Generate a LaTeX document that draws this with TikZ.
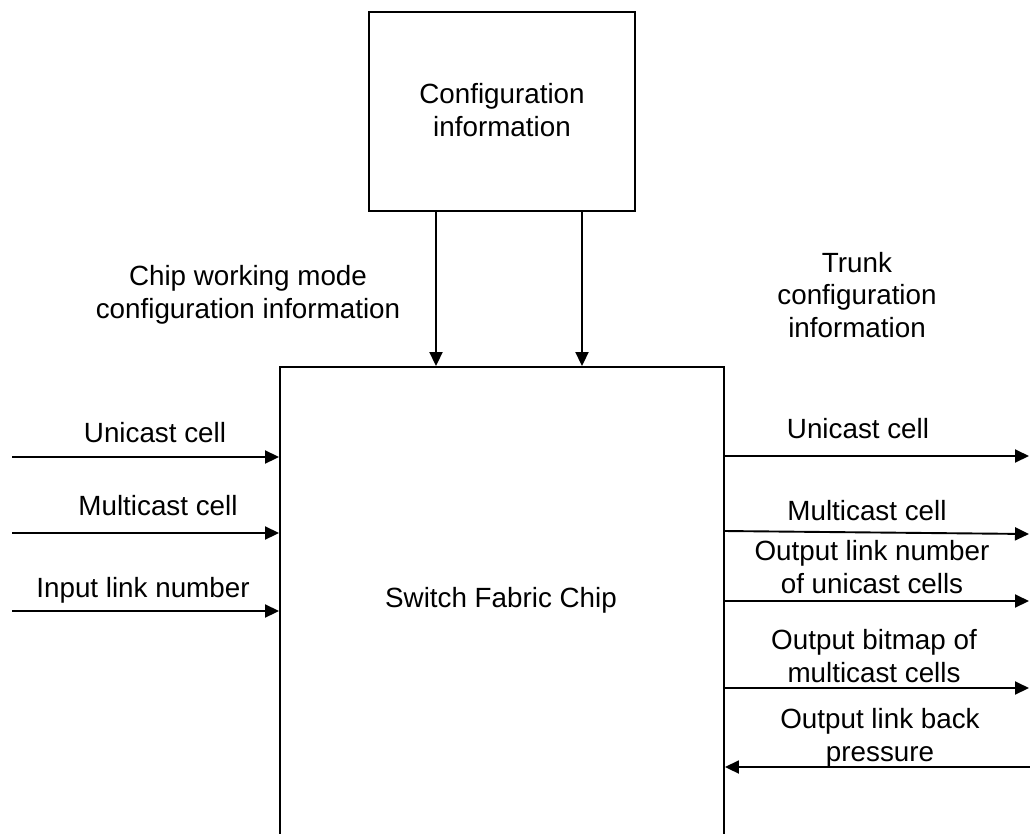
\documentclass[tikz,border=0pt]{standalone}
\usepackage{fontspec}
\setmainfont{Liberation Sans}
\usetikzlibrary{arrows.meta}
\begin{document}
\begin{tikzpicture}[x=1pt,y=-1pt,
  lw/.style={line width=1.9pt},
  arr/.style={lw,-{Triangle[length=14pt,width=13pt]}},
  box/.style={draw,lw,rectangle,inner sep=0pt},
  lbl/.style={inner sep=0pt,align=center,anchor=base,font=\fontsize{27.8}{32.5}\selectfont}]
\useasboundingbox (0,0) rectangle (1030,833);
% boxes
\node[box,minimum width=266pt,minimum height=199pt] (cfg) at (502,111.5) {};
\node[lbl] (cfgt) at (502,136) {Configuration\\information};
\node[box,minimum width=444pt,minimum height=490pt] (main) at (502,612) {};
\node[lbl] (maint) at (501,607) {Switch Fabric Chip};
% config arrows
\coordinate (c1) at (436,211);
\coordinate (c2) at (582,211);
\draw[arr] (c1) -- (c1 |- main.north);
\draw[arr] (c2) -- (c2 |- main.north);
\node[lbl] (cwm) at (248,318) {Chip working mode\\configuration information};
\node[lbl] (trunk) at (857,337) {Trunk\\configuration\\information};
% left inputs
\coordinate (i1) at (12,457);
\coordinate (i2) at (12,533);
\coordinate (i3) at (12,611);
\draw[arr] (i1) -- (i1 -| main.west);
\draw[arr] (i2) -- (i2 -| main.west);
\draw[arr] (i3) -- (i3 -| main.west);
\node[lbl] (li1) at (155,442) {Unicast cell};
\node[lbl] (li2) at (158,515) {Multicast cell};
\node[lbl] (li3) at (143,597) {Input link number};
% right outputs
\coordinate (o1) at (1029,456);
\coordinate (o2s) at (724,531);
\coordinate (o2) at (1029,534);
\coordinate (o3) at (1029,601);
\coordinate (o4) at (1029,688);
\coordinate (o5) at (1030,767);
\draw[arr] (o1 -| main.east) -- (o1);
\draw[arr] (o2s) -- (o2);
\draw[arr] (o3 -| main.east) -- (o3);
\draw[arr] (o4 -| main.east) -- (o4);
\draw[arr] (o5) -- (o5 -| main.east);
\node[lbl] (lo1) at (858,438) {Unicast cell};
\node[lbl] (lo2) at (867,520) {Multicast cell};
\node[lbl] (lo3) at (872,593) {Output link number\\of unicast cells};
\node[lbl] (lo4) at (874,682) {Output bitmap of\\multicast cells};
\node[lbl] (lo5) at (880,761) {Output link back\\pressure};
\end{tikzpicture}
\end{document}
